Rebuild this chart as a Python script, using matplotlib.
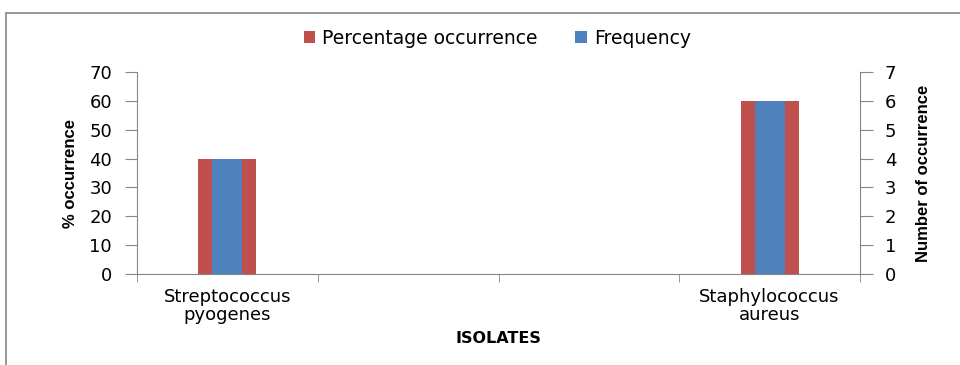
import matplotlib.pyplot as plt
import numpy as np
from matplotlib.patches import Rectangle

# data
isolates = ['Streptococcus\npyogenes', '', '', 'Staphylococcus\naureus']
percentage = [40, 0, 0, 60]
frequency = [4, 0, 0, 6]

red = '#C0504D'
blue = '#4F81BD'
grey = '#868686'

fig = plt.figure(figsize=(9.6, 3.65), dpi=100)
ax = fig.add_axes([137 / 960, 1 - 274 / 365, (860 - 137) / 960, (274 - 72) / 365])
ax2 = ax.twinx()

x = np.arange(len(isolates))
ax.bar(x, percentage, width=0.32, color=red, label='Percentage occurrence', zorder=2)
ax2.bar(x, frequency, width=0.165, color=blue, label='Frequency', zorder=3)

ax.set_xlim(-0.5, len(isolates) - 0.5)
ax.set_ylim(0, 70)
ax2.set_ylim(0, 7)
ax.set_yticks(range(0, 71, 10))
ax2.set_yticks(range(0, 8))

ax.set_xticks(x)
ax.set_xticklabels(isolates, fontsize=13, linespacing=1.0)
ax.set_xticks(np.arange(-0.5, len(isolates), 1), minor=True)
ax.tick_params(axis='x', which='major', length=0, pad=10)
ax.tick_params(axis='x', which='minor', length=6, color=grey)

for a in (ax, ax2):
    a.spines['top'].set_visible(False)
    for s in ('left', 'right', 'bottom'):
        a.spines[s].set_color(grey)
    a.tick_params(axis='y', length=9, color=grey, labelsize=13, pad=9)
ax.spines['right'].set_visible(False)
ax2.spines['left'].set_visible(False)
ax2.spines['bottom'].set_visible(False)

label_font = ['Liberation Sans Narrow', 'Liberation Sans']
ax.set_ylabel('% occurrence', fontsize=12, fontweight='bold', family=label_font, labelpad=8)
ax2.set_ylabel('Number of occurrence', fontsize=12, fontweight='bold', family=label_font, labelpad=14)
ax.set_xlabel('ISOLATES', fontsize=11.5, fontweight='bold', labelpad=5)

h1, l1 = ax.get_legend_handles_labels()
h2, l2 = ax2.get_legend_handles_labels()
fig.legend(h1 + h2, l1 + l2, loc='center', bbox_to_anchor=(0.518, 1 - 38 / 365), ncol=2,
           frameon=False, fontsize=13.5, handlelength=0.6, handleheight=0.6,
           handletextpad=0.4, columnspacing=2.0)

# outer chart border
fig.patches.append(Rectangle((6 / 960, -0.05), 1.0, 1 - 13 / 365 + 0.05, transform=fig.transFigure,
                             fill=False, edgecolor=grey, linewidth=1.2))

fig.savefig('out.png', dpi=100)
